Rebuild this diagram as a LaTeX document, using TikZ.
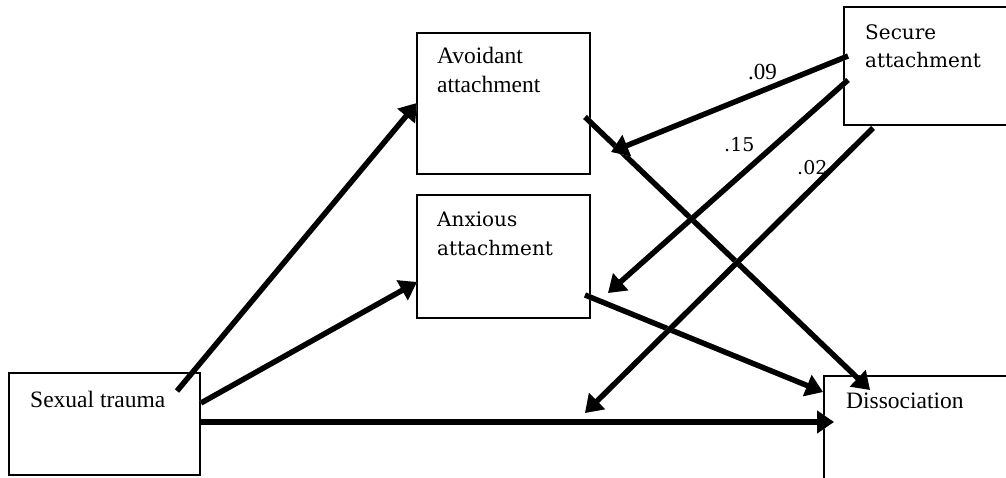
\documentclass[tikz,border=0pt]{standalone}
\usepackage{fontspec}
\setmainfont{Liberation Serif}
\newfontfamily\camfont{DejaVu Serif}
\usetikzlibrary{arrows.meta}
\begin{document}
\begin{tikzpicture}[x=1pt,y=-1pt,
  box/.style={draw=black,line width=2pt,
    preaction={draw=gray!35,line width=2pt,yshift=-4pt}},
  path/.style={line width=5.4pt,
    -{Triangle[length=17pt,width=22pt]},
    preaction={draw=gray!40,line width=5.4pt,xshift=1.5pt,yshift=-2.5pt,
      -{Triangle[length=17pt,width=22pt]}}},
  tms/.style={font=\fontsize{23.5}{28}\selectfont,inner sep=0pt,anchor=base west},
  cam/.style={font=\camfont\fontsize{20}{24}\selectfont,inner sep=0pt,anchor=base west},
  coef/.style={inner sep=0pt,anchor=base west}]
\useasboundingbox (0,0) rectangle (1006,478);
\clip (0,0) rectangle (1006,478);

% boxes
\draw[box] (9,373) rectangle (200,475);
\draw[box] (417,33) rectangle (590,174);
\draw[box] (417,195) rectangle (590,318);
\draw[box] (844,7) rectangle (1030,125);
\draw[box] (824,376) rectangle (1030,500);

% box texts
\node[tms] (trauma) at (30,407) {Sexual trauma};
\node[tms] (avoidA) at (437,64) {Avoidant};
\node[tms] (avoidB) at (437,93) {attachment};
\node[cam] (anxA) at (437,227) {Anxious};
\node[cam] (anxB) at (437,255) {attachment};
\node[cam] (secA) at (865,40) {Secure};
\node[cam] (secB) at (865,68) {attachment};
\node[tms] (diss) at (846,408) {Dissociation};

% connector end points
\coordinate (t1) at (177,391);
\coordinate (t2) at (201,403);
\coordinate (t3) at (200,422);
\coordinate (av_in) at (417,103);
\coordinate (an_in) at (417,282);
\coordinate (d_in) at (834,422);
\coordinate (av_out) at (585,117);
\coordinate (an_out) at (585,295);
\coordinate (d_top) at (870,390);
\coordinate (d_left) at (823,392);
\coordinate (s1) at (848,56);
\coordinate (s2) at (848,80);
\coordinate (s3) at (873,128);
\coordinate (av_mid) at (611,152);
\coordinate (an_side) at (608,293);
\coordinate (base_mid) at (585,413);

% paths
\draw[path] (t1) -- (av_in);
\draw[path] (t2) -- (an_in);
\draw[path] (t3) -- (d_in);
\draw[path] (av_out) -- (d_top);
\draw[path] (an_out) -- (d_left);
\draw[path] (s1) -- (av_mid);
\draw[path] (s2) -- (an_side);
\draw[path] (s3) -- (base_mid);

% coefficients
\node[coef,font=\fontsize{23}{26}\selectfont] (c09) at (748,80) {.09};
\node[coef,font=\camfont\fontsize{19}{22}\selectfont] (c15) at (724,152) {.15};
\node[coef,font=\camfont\fontsize{19}{22}\selectfont] (c02) at (797,175) {.02};
\end{tikzpicture}
\end{document}
